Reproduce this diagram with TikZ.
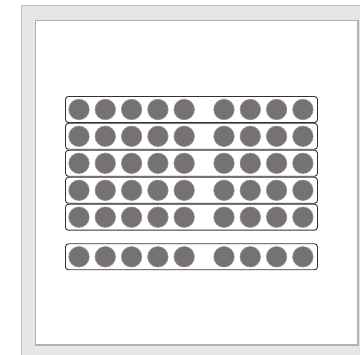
\documentclass[tikz,border=0pt]{standalone}
\definecolor{framegray}{RGB}{230,230,230}
\definecolor{frameline}{RGB}{190,190,190}
\definecolor{innerline}{RGB}{178,178,178}
\definecolor{dotfill}{RGB}{118,114,113}
\definecolor{dotline}{RGB}{150,146,145}
\definecolor{stripline}{RGB}{50,50,50}
\tikzset{
  stripbox/.style={draw=stripline, line width=0.9pt, rounded corners=3pt, fill=white, minimum width=252pt, minimum height=26pt, inner sep=0pt},
  dot/.style={circle, fill=dotfill, draw=dotline, line width=0.6pt, minimum size=20.5pt, inner sep=0pt}
}
\begin{document}
\begin{tikzpicture}[x=1pt,y=-1pt]
\useasboundingbox (0,0) rectangle (360,355);
\fill[white] (0,0) rectangle (360,355);
\draw[fill=framegray, draw=frameline, line width=1pt] (21.5,5.5) rectangle (365,362);
\draw[fill=white, draw=innerline, line width=1.2pt] (35.5,20.5) rectangle (358,345);
\foreach \r/\y in {1/109.5,2/136.3,3/163.3,4/190.3,5/217.2,6/256.8}{
  \node[stripbox] (s\r) at (191.5,\y) {};
  \foreach \c/\x in {1/79,2/105.3,3/131.6,4/157.9,5/184.2,6/224,7/250.3,8/276.6,9/302.9}{
    \node[dot] (d\r-\c) at (\x,\y) {};
  }
}
\end{tikzpicture}
\end{document}
